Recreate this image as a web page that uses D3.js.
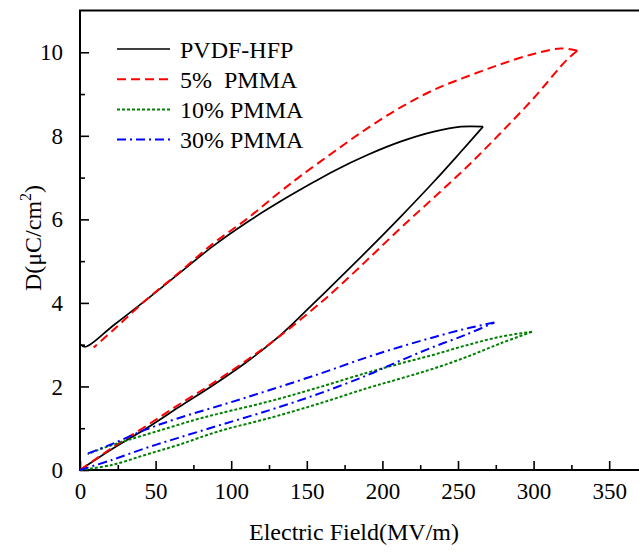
<!DOCTYPE html>
<html>
<head>
<meta charset="utf-8">
<script src="https://cdn.jsdelivr.net/npm/d3@7"></script>
<style>
  html, body { margin: 0; padding: 0; background: #fff; }
  svg { display: block; }
  text { font-family: "Liberation Serif", "Times New Roman", serif; fill: #000; }
</style>
</head>
<body>
<svg id="chart" width="639" height="556"></svg>
<script>
// ---------- data (E in MV/m, D in µC/cm²) ----------
const seriesNames = ["PVDF-HFP", "5%\u00a0\u00a0PMMA", "10% PMMA", "30% PMMA"];
const seriesColors = ["#000000", "#ff0000", "#008000", "#0000ff"];
const seriesDash = [null, "9,5", "3,2", "9,4,2,4"];

// PVDF-HFP
const pvdfCharge = [[0,0],[22,0.52],[44,1.0],[66,1.52],[88,2.03],[110,2.58],[132,3.21],[154,3.97],[176,4.75],[190,5.25],[212,6.06],[234,6.90],[250,7.54],[266.6,8.22]];
const pvdfDischarge = [[266.6,8.22],[252,8.22],[234,8.10],[212,7.86],[190,7.54],[168,7.16],[154,6.88],[132,6.42],[110,5.92],[88,5.36],[66,4.72],[44,4.08],[22,3.46],[3.5,2.95],[0,3.02]];
// 5% PMMA
const pmma5Charge = [[0,0],[22,0.55],[44,1.06],[66,1.58],[88,2.08],[110,2.62],[132,3.2],[159,4.0],[170,4.35],[190,5.03],[212,5.79],[234,6.52],[256,7.26],[278,8.06],[300,8.90],[322,9.82],[329,10.04]];
const pmma5Discharge = [[329,10.04],[318,10.09],[300,9.96],[278,9.71],[256,9.42],[234,9.10],[212,8.68],[190,8.18],[168,7.62],[146,7.04],[132,6.65],[110,6.0],[88,5.42],[66,4.74],[44,4.08],[22,3.35],[9,2.93]];
// 10% PMMA
const pmma10Charge = [[0,0],[21,0.12],[43,0.36],[65,0.60],[93,0.94],[126,1.25],[159,1.60],[190,1.96],[212,2.19],[234,2.43],[256,2.71],[278,3.03],[299,3.31]];
const pmma10Discharge = [[299,3.31],[278,3.19],[256,2.99],[234,2.76],[212,2.55],[190,2.33],[159,1.99],[126,1.65],[93,1.36],[76,1.20],[54,0.96],[32,0.72],[15,0.52],[5,0.38]];
// 30% PMMA
const pmma30Charge = [[0,0],[21,0.24],[43,0.52],[65,0.77],[93,1.08],[126,1.44],[159,1.84],[190,2.27],[212,2.62],[234,2.95],[256,3.25],[274,3.53]];
const pmma30Discharge = [[274,3.53],[256,3.39],[234,3.18],[212,2.95],[190,2.70],[159,2.31],[126,1.92],[96,1.58],[65,1.24],[43,0.96],[21,0.62],[4,0.38]];

const xTicks = [0, 50, 100, 150, 200, 250, 300, 350];
const xMinor = [25, 75, 125, 175, 225, 275, 325, 375];
const yTicks = [0, 2, 4, 6, 8, 10];
const yMinor = [1, 3, 5, 7, 9];

const seriesBranches = [
  [pvdfCharge, pvdfDischarge],
  [pmma5Charge, pmma5Discharge],
  [pmma10Charge, pmma10Discharge],
  [pmma30Charge, pmma30Discharge]
];

// ---------- layout ----------
const svg = d3.select("#chart");
const mLeft = 80, mBottom = 470, mTop = 10.5;
const x = d3.scaleLinear().domain([0, 350]).range([mLeft, 609.2]);
const y = d3.scaleLinear().domain([0, 11]).range([mBottom, mTop]);
const xMax = x.invert(645);

// frame
svg.append("path")
  .attr("d", `M${x(xMax)},${y(11)}H${mLeft}V${mBottom}H${x(xMax)}`)
  .attr("fill", "none").attr("stroke", "#000").attr("stroke-width", 2);

// x axis (ticks inward)
const gx = svg.append("g").attr("transform", `translate(0,${mBottom})`)
  .call(d3.axisBottom(x).tickValues(xTicks).tickSize(-9).tickSizeOuter(0).tickPadding(19));
gx.select(".domain").remove();
gx.attr("font-family", "Liberation Serif");
gx.selectAll(".tick line").attr("stroke-width", 1.6);
gx.selectAll(".tick text").attr("font-size", 23).attr("font-family", "Liberation Serif").attr("dy", "0.45em");
const gxm = svg.append("g").attr("transform", `translate(0,${mBottom})`)
  .call(d3.axisBottom(x).tickValues(xMinor).tickSize(-5).tickSizeOuter(0).tickFormat(""));
gxm.select(".domain").remove();
gxm.selectAll(".tick line").attr("stroke-width", 1.6);

// y axis
const gy = svg.append("g").attr("transform", `translate(${mLeft},0)`)
  .call(d3.axisLeft(y).tickValues(yTicks).tickSize(-9).tickSizeOuter(0).tickPadding(17));
gy.select(".domain").remove();
gy.attr("font-family", "Liberation Serif");
gy.selectAll(".tick line").attr("stroke-width", 1.6);
gy.selectAll(".tick text").attr("font-size", 23).attr("font-family", "Liberation Serif").attr("dy", "0.33em");
const gym = svg.append("g").attr("transform", `translate(${mLeft},0)`)
  .call(d3.axisLeft(y).tickValues(yMinor).tickSize(-5).tickSizeOuter(0).tickFormat(""));
gym.select(".domain").remove();
gym.selectAll(".tick line").attr("stroke-width", 1.6);

// axis titles
svg.append("text").attr("x", 354).attr("y", 540).attr("text-anchor", "middle")
  .attr("font-size", 24).text("Electric Field(MV/m)");
const yt = svg.append("text").attr("transform", `translate(41,238) rotate(-90)`)
  .attr("text-anchor", "middle").attr("font-size", 24);
yt.append("tspan").text("D(\u03bcC/cm");
yt.append("tspan").attr("font-size", 16).attr("dy", -10).text("2");
yt.append("tspan").attr("dy", 10).text(")");

// curves
const line = d3.line().x(d => x(d[0])).y(d => y(d[1])).curve(d3.curveCatmullRom.alpha(0.5));
const plot = svg.append("g");
seriesBranches.forEach((branches, i) => {
  branches.forEach(b => {
    plot.append("path").attr("d", line(b))
      .attr("fill", "none")
      .attr("stroke", seriesColors[i])
      .attr("stroke-width", i === 0 ? 1.7 : 2)
      .attr("stroke-dasharray", seriesDash[i])
      .attr("stroke-linejoin", "miter");
  });
});

// legend
const lg = svg.append("g");
seriesNames.forEach((name, i) => {
  const ly = 49 + i * 30.2;
  lg.append("line").attr("x1", 117).attr("x2", 170).attr("y1", ly).attr("y2", ly)
    .attr("stroke", seriesColors[i]).attr("stroke-width", i === 0 ? 1.7 : 2)
    .attr("stroke-dasharray", seriesDash[i]);
  lg.append("text").attr("x", 180).attr("y", ly + 8.5).attr("font-size", 24).text(name);
});
</script>
</body>
</html>
